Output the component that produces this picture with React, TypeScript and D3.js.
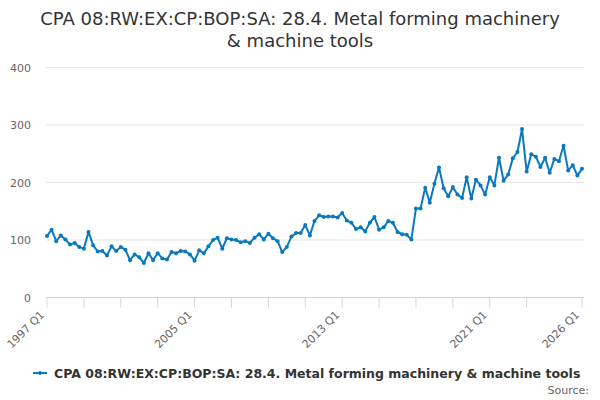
import React from "react";
import * as d3 from "d3";

const title1 = "CPA 08:RW:EX:CP:BOP:SA: 28.4. Metal forming machinery";
const title2 = "& machine tools";
const seriesName = "CPA 08:RW:EX:CP:BOP:SA: 28.4. Metal forming machinery & machine tools";

const values: number[] = [
  107, 118, 98, 108, 101, 92, 95, 88, 85, 114,
  91, 80, 81, 73, 89, 81, 88, 83, 65, 75,
  70, 60, 77, 65, 77, 68, 66, 79, 77, 81,
  80, 75, 64, 82, 77, 89, 100, 104, 85, 103,
  101, 100, 96, 98, 95, 104, 110, 101, 111, 103,
  98, 79, 88, 106, 112, 112, 126, 108, 133, 143,
  140, 141, 141, 139, 147, 134, 130, 119, 122, 115,
  130, 140, 118, 122, 133, 130, 114, 110, 109, 101,
  155, 155, 191, 165, 198, 226, 190, 176, 192, 179,
  173, 209, 172, 205, 195, 179, 209, 195, 243, 203,
  214, 242, 253, 293, 219, 249, 245, 227, 243, 217,
  241, 237, 264, 221, 230, 212, 224,
];

const startYear = 1997;
const categories: string[] = values.map((_, i) => `${startYear + Math.floor(i / 4)} Q${(i % 4) + 1}`);
const tickIndices: number[] = [0, 8, 16, 24, 32, 40, 48, 56, 64, 72, 80, 88, 96, 104, 116];
const labelIndices: number[] = [0, 32, 64, 96, 116];
const yTicks: number[] = [0, 100, 200, 300, 400];

const W = 600, H = 400;
const left = 47, right = 582, top = 67.5, bottom = 297.5;
const color = "#0a78bf";
const font = "DejaVu Sans, sans-serif";

export default function App() {
  const x = d3.scalePoint<number>().domain(values.map((_, i) => i)).range([left, right]);
  const y = d3.scaleLinear().domain([0, 400]).range([bottom, top]);
  const line = d3.line<number>().x((_, i) => x(i)!).y((d) => y(d));
  return (
    <svg width={W} height={H} style={{ position: "absolute", left: 0, top: 0, fontFamily: font }}>
      <rect width={W} height={H} fill="#fff" />
      <text x={300} y={25} textAnchor="middle" fontSize={18} fill="#333">{title1}</text>
      <text x={300} y={47} textAnchor="middle" fontSize={18} fill="#333">{title2}</text>
      {yTicks.map((t) => (
        <g key={t}>
          {t > 0 && <line x1={left - 1} x2={right + 2} y1={y(t)} y2={y(t)} stroke="#e6e6e6" />}
          <text x={31} y={y(t) + 4} textAnchor="end" fontSize={11} fill="#666">{t}</text>
        </g>
      ))}
      <line x1={left - 1} x2={right + 2} y1={bottom} y2={bottom} stroke="#ccd6eb" />
      {tickIndices.map((i) => (
        <line key={i} x1={x(i)} x2={x(i)} y1={bottom} y2={bottom + 10} stroke="#ccd6eb" />
      ))}
      {labelIndices.map((i) => (
        <text key={i} transform={`translate(${x(i)! - 2},${bottom + 18}) rotate(-45)`} textAnchor="end" fontSize={11} fill="#666">
          {categories[i]}
        </text>
      ))}
      <path d={line(values) ?? ""} fill="none" stroke={color} strokeWidth={2} strokeLinejoin="round" />
      {values.map((v, i) => (
        <circle key={i} cx={x(i)} cy={y(v)} r={2} fill={color} />
      ))}
      <line x1={33} x2={47} y1={373} y2={373} stroke={color} strokeWidth={2} />
      <circle cx={40} cy={373} r={2} fill={color} />
      <text x={54} y={378} fontSize={12.5} fontWeight="bold" fill="#333">{seriesName}</text>
      <text x={589} y={394} textAnchor="end" fontSize={11} fill="#666">Source:</text>
    </svg>
  );
}
